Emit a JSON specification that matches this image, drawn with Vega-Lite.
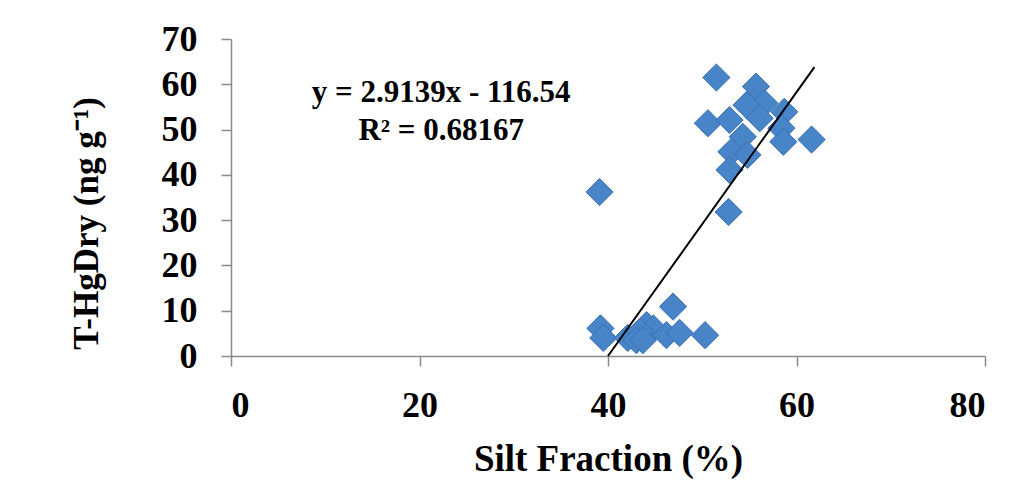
{
  "$schema": "https://vega.github.io/schema/vega-lite/v6.json",
  "width": 754,
  "height": 317,
  "autosize": {"type": "none"},
  "padding": {"left": 231, "top": 39, "right": 42, "bottom": 129},
  "background": "white",
  "config": {
    "view": {"stroke": null},
    "axis": {
      "grid": false,
      "domainColor": "#8a8a8a",
      "domainWidth": 1.5,
      "tickColor": "#8a8a8a",
      "tickWidth": 1.5,
      "tickSize": 10,
      "labelFont": "Liberation Serif",
      "labelFontWeight": "bold",
      "labelFontSize": 36,
      "labelColor": "black",
      "titleFont": "Liberation Serif",
      "titleFontWeight": "bold",
      "titleFontSize": 37,
      "titleColor": "black"
    }
  },
  "datasets": {
    "pts": [
      {"silt": 51.5, "thg": 61.5},
      {"silt": 55.7, "thg": 59.5},
      {"silt": 56.6, "thg": 55.8},
      {"silt": 54.7, "thg": 55.4},
      {"silt": 58.7, "thg": 53.9},
      {"silt": 50.6, "thg": 51.4},
      {"silt": 52.9, "thg": 52.1},
      {"silt": 56.1, "thg": 52.5},
      {"silt": 58.4, "thg": 50.3},
      {"silt": 54.3, "thg": 48.4},
      {"silt": 61.6, "thg": 47.8},
      {"silt": 58.6, "thg": 47.3},
      {"silt": 53.1, "thg": 45.1},
      {"silt": 54.8, "thg": 44.4},
      {"silt": 52.9, "thg": 41.1},
      {"silt": 52.8, "thg": 31.8},
      {"silt": 39.1, "thg": 36.2},
      {"silt": 39.2, "thg": 6.1},
      {"silt": 39.5, "thg": 4.0},
      {"silt": 46.9, "thg": 10.9},
      {"silt": 42.1, "thg": 4.0},
      {"silt": 44.1, "thg": 6.8},
      {"silt": 44.8, "thg": 6.1},
      {"silt": 43.4, "thg": 5.4},
      {"silt": 43.0, "thg": 3.5},
      {"silt": 43.7, "thg": 3.5},
      {"silt": 46.2, "thg": 4.6},
      {"silt": 47.6, "thg": 5.1},
      {"silt": 50.3, "thg": 4.6}
    ],
    "trend": [
      {"silt": 40.0, "thg": 0.0},
      {"silt": 61.9, "thg": 63.8}
    ],
    "eq": [
      {"silt": 22.3, "thg": 56.1, "txt": "y = 2.9139x - 116.54"},
      {"silt": 22.3, "thg": 47.7, "txt": "R² = 0.68167"}
    ]
  },
  "encoding": {
    "x": {
      "field": "silt",
      "type": "quantitative",
      "scale": {"domain": [0, 80], "nice": false, "zero": false},
      "axis": {
        "values": [0, 20, 40, 60, 80],
        "title": "Silt Fraction (%)",
        "labelPadding": 22,
        "titlePadding": 18
      }
    },
    "y": {
      "field": "thg",
      "type": "quantitative",
      "scale": {"domain": [0, 70], "nice": false},
      "axis": {
        "values": [0, 10, 20, 30, 40, 50, 60, 70],
        "title": "T-HgDry (ng g⁻¹)",
        "titleFontSize": 35,
        "labelPadding": 24,
        "titleX": -145,
        "titleY": 184,
        "titleAngle": -90,
        "titleAlign": "center",
        "titleBaseline": "middle"
      }
    }
  },
  "layer": [
    {
      "data": {"name": "pts"},
      "mark": {
        "type": "point",
        "shape": "diamond",
        "filled": true,
        "size": 740,
        "fill": "#4884c8",
        "stroke": "#3a70b2",
        "strokeWidth": 1,
        "opacity": 1
      }
    },
    {
      "data": {"name": "trend"},
      "mark": {"type": "line", "color": "black", "strokeWidth": 2}
    },
    {
      "data": {"name": "eq"},
      "mark": {
        "type": "text",
        "font": "Liberation Serif",
        "fontWeight": "bold",
        "fontSize": 31,
        "align": "center",
        "baseline": "alphabetic",
        "color": "black"
      },
      "encoding": {"text": {"field": "txt"}}
    }
  ]
}
